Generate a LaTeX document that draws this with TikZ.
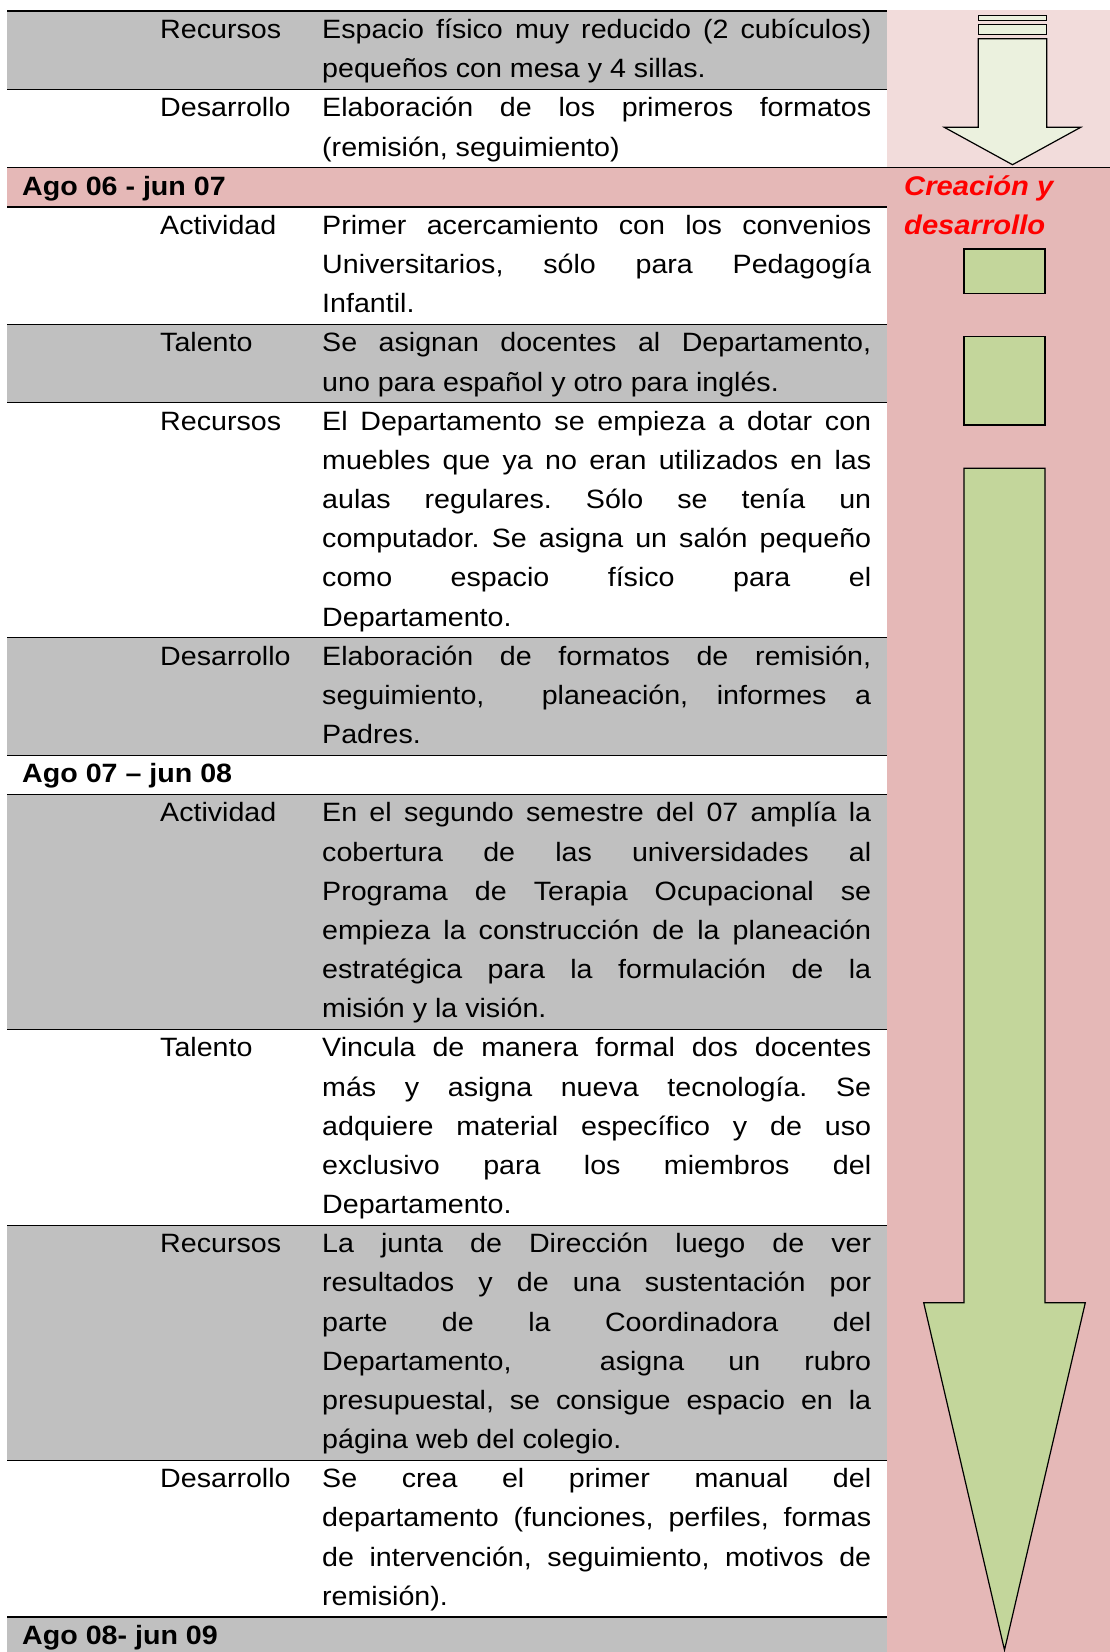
\documentclass[tikz,border=0pt]{standalone}
\usepackage{fontspec}
\setmainfont{Liberation Sans}[FakeStretch=1.08]
\frenchspacing
\definecolor{gris}{HTML}{C0C0C0}
\definecolor{rosaclaro}{HTML}{F2DCDB}
\definecolor{rosa}{HTML}{E5B8B7}
\definecolor{verde}{HTML}{C3D69B}
\definecolor{verdeclaro}{HTML}{EBF1DE}
\newcommand\BL[1]{38.5+39.17*#1}
\newcommand\RL[1]{11+39.17*#1}
\newcommand\jline[3]{\node[txt] (#1) at (322,\BL{#2}) {\makebox[549pt][s]{#3}};}
\newcommand\nline[3]{\node[txt] (#1) at (322,\BL{#2}) {#3};}
\newcommand\lab[3]{\node[txt] (#1) at (160,\BL{#2}) {#3};}
\newcommand\hdr[3]{\node[txt,font=\fontsize{26.5}{30}\selectfont\bfseries] (#1) at (22,\BL{#2}) {#3};}
\newcommand\rowfill[3]{\fill[#1] (7,\RL{#2}) rectangle (886.7,\RL{#3});}
\begin{document}
\begin{tikzpicture}[x=1pt,y=-1pt,
  txt/.style={anchor=base west,inner sep=0pt,font=\fontsize{26.5}{30}\selectfont\frenchspacing},
  rulestyle/.style={line width=1.3pt},
  shp/.style={draw=black,line width=1.2pt,line join=miter}]
\useasboundingbox (0,0) rectangle (1110,1652);
\fill[white] (0,0) rectangle (1110,1652);
% right column
\fill[rosaclaro] (886.7,10) rectangle (1110,\RL{4});
\fill[rosa] (886.7,\RL{4}) rectangle (1110,1652);
% row fills
\rowfill{gris}{0}{2}
\rowfill{rosa}{4}{5}
\rowfill{gris}{8}{10}
\rowfill{gris}{16}{19}
\rowfill{gris}{20}{26}
\rowfill{gris}{31}{37}
\fill[gris] (7,\RL{41}) rectangle (886.7,1652);
% rules
\foreach \k in {0,2,5,8,10,16,19,20,26,31,37,41}{
  \draw[rulestyle] (7,\RL{\k}) -- (886.7,\RL{\k});
}
\draw[rulestyle] (7,\RL{4}) -- (1110,\RL{4});
% row A
\lab{la}{0}{Recursos}
\jline{a0}{0}{Espacio físico muy reducido (2 cubículos)}
\nline{a1}{1}{pequeños con mesa y 4 sillas.}
% row B
\lab{lb}{2}{Desarrollo}
\jline{b0}{2}{Elaboración de los primeros formatos}
\nline{b1}{3}{(remisión, seguimiento)}
% header C
\hdr{hc}{4}{Ago 06 - jun 07}
% row D
\lab{ld}{5}{Actividad}
\jline{d0}{5}{Primer acercamiento con los convenios}
\jline{d1}{6}{Universitarios, sólo para Pedagogía}
\nline{d2}{7}{Infantil.}
% row E
\lab{le}{8}{Talento}
\jline{e0}{8}{Se asignan docentes al Departamento,}
\nline{e1}{9}{uno para español y otro para inglés.}
% row F
\lab{lf}{10}{Recursos}
\jline{f0}{10}{El Departamento se empieza a dotar con}
\jline{f1}{11}{muebles que ya no eran utilizados en las}
\jline{f2}{12}{aulas regulares. Sólo se tenía un}
\jline{f3}{13}{computador. Se asigna un salón pequeño}
\jline{f4}{14}{como espacio físico para el}
\nline{f5}{15}{Departamento.}
% row G
\lab{lg}{16}{Desarrollo}
\jline{g0}{16}{Elaboración de formatos de remisión,}
\jline{g1}{17}{seguimiento,\ \ planeación, informes a}
\nline{g2}{18}{Padres.}
% header H
\hdr{hh}{19}{Ago 07 – jun 08}
% row I
\lab{li}{20}{Actividad}
\jline{i0}{20}{En el segundo semestre del 07 amplía la}
\jline{i1}{21}{cobertura de las universidades al}
\jline{i2}{22}{Programa de Terapia Ocupacional se}
\jline{i3}{23}{empieza la construcción de la planeación}
\jline{i4}{24}{estratégica para la formulación de la}
\nline{i5}{25}{misión y la visión.}
% row J
\lab{lj}{26}{Talento}
\jline{j0}{26}{Vincula de manera formal dos docentes}
\jline{j1}{27}{más y asigna nueva tecnología. Se}
\jline{j2}{28}{adquiere material específico y de uso}
\jline{j3}{29}{exclusivo para los miembros del}
\nline{j4}{30}{Departamento.}
% row K
\lab{lk}{31}{Recursos}
\jline{k0}{31}{La junta de Dirección luego de ver}
\jline{k1}{32}{resultados y de una sustentación por}
\jline{k2}{33}{parte de la Coordinadora del}
\jline{k3}{34}{Departamento,\ \ asigna un rubro}
\jline{k4}{35}{presupuestal, se consigue espacio en la}
\nline{k5}{36}{página web del colegio.}
% row L
\lab{ll}{37}{Desarrollo}
\jline{l0}{37}{Se crea el primer manual del}
\jline{l1}{38}{departamento (funciones, perfiles, formas}
\jline{l2}{39}{de intervención, seguimiento, motivos de}
\nline{l3}{40}{remisión).}
% header M
\hdr{hm}{41}{Ago 08- jun 09}
% red title
\node[txt,font=\fontsize{27}{30}\selectfont\bfseries\itshape,text=red] (cr1) at (904,\BL{4}) {Creación y};
\node[txt,font=\fontsize{27}{30}\selectfont\bfseries\itshape,text=red] (cr2) at (904,\BL{5}) {desarrollo};
% top arrow
\draw[shp,fill=verdeclaro] (978.3,15.7) rectangle (1046.7,20.7);
\draw[shp,fill=verdeclaro] (978.3,24.3) rectangle (1046.7,34.3);
\draw[shp,fill=verdeclaro] (978.3,38.7) -- (1046.7,38.7) -- (1046.7,127.3) -- (1080.7,127.3)
  -- (1012.5,164.7) -- (944.3,127.3) -- (978.3,127.3) -- cycle;
% green blocks
\draw[shp,fill=verde] (964,249) rectangle (1045,293.3);
\draw[shp,fill=verde] (964,336.7) rectangle (1045,425);
\draw[shp,fill=verde] (964,468.3) -- (1045,468.3) -- (1045,1302.7) -- (1085.3,1302.7)
  -- (1004.5,1650) -- (923.7,1302.7) -- (964,1302.7) -- cycle;
\end{tikzpicture}
\end{document}
